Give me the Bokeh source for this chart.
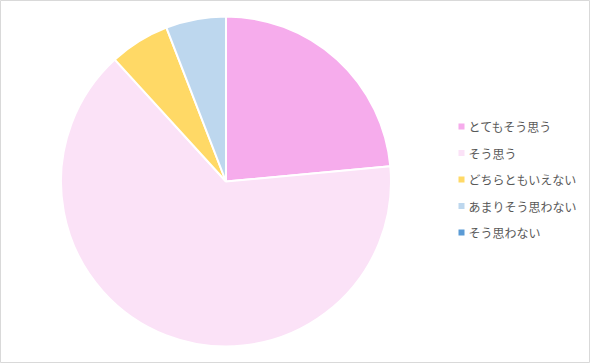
import numpy as np
from bokeh.plotting import figure
from bokeh.models import Range1d, ColumnDataSource
from bokeh.core.properties import value
from bokeh.embed import file_html
from bokeh.resources import INLINE

categories = ["とてもそう思う", "そう思う", "どちらともいえない", "あまりそう思わない", "そう思わない"]
counts = [4, 11, 1, 1, 0]
colors = ["#F6ACEC", "#FBE2F7", "#FFD966", "#BDD7EE", "#5B9BD5"]

W, H = 590, 363
p = figure(width=W, height=H, output_backend="svg", toolbar_location=None,
           x_range=Range1d(0, W), y_range=Range1d(0, H), min_border=0)
p.axis.visible = False
p.grid.visible = False
p.outline_line_color = "#D9D9D9"
p.outline_line_width = 1
p.background_fill_color = "white"

vals = np.array(counts, dtype=float)
frac = vals / vals.sum()
cum = np.concatenate([[0], np.cumsum(frac)])
# clockwise from 12 o'clock
start = np.pi / 2 - cum[:-1] * 2 * np.pi
end = np.pi / 2 - cum[1:] * 2 * np.pi
mask = vals > 0
src = ColumnDataSource(dict(start=start[mask], end=end[mask],
                            color=[c for c, m in zip(colors, mask) if m]))
cx, cy, r = 225.5, H - 181, 165
p.wedge(x=cx, y=cy, radius=r, start_angle="end", end_angle="start",
        fill_color="color", line_color="white", line_width=2, source=src)

# legend
ly = [H - (126 + 26.5 * i) for i in range(len(categories))]
lsrc = ColumnDataSource(dict(y=ly, color=colors, label=categories))
p.rect(x=461, y="y", width=6, height=6, fill_color="color", line_color=None, source=lsrc)
p.text(x=468, y="y", text="label", source=lsrc, text_font=value("Noto Sans CJK JP"),
       text_font_size="12px", text_color="#595959", text_baseline="middle", text_align="left")

open("out.html", "w").write(file_html(p, INLINE))
